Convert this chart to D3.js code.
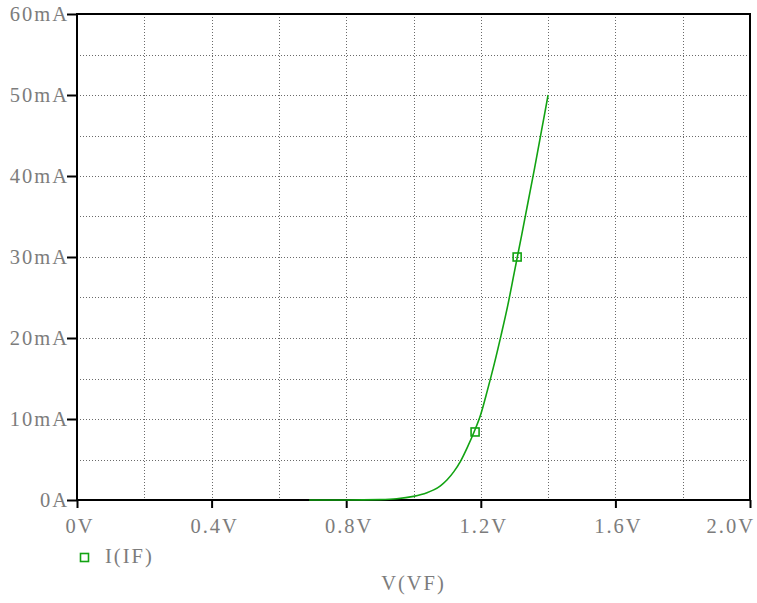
<!DOCTYPE html>
<html>
<head>
<meta charset="utf-8">
<script src="https://cdn.jsdelivr.net/npm/d3@7"></script>
<style>
  html, body { margin: 0; padding: 0; background: #fff; }
  svg { display: block; }
  .lbl { font-family: "Liberation Serif", "DejaVu Serif", serif; font-size: 20.5px; letter-spacing: 2px; fill: #7c7c7c; }
</style>
</head>
<body>
<svg id="chart" width="757" height="603"></svg>
<script>
// Forward voltage sweep of the diode (V) and the resulting current (mA)
const voltage = [0.69, 0.80, 0.90, 0.95, 1.00, 1.04, 1.06, 1.08, 1.10, 1.12, 1.14, 1.16, 1.18,
                 1.20, 1.22, 1.24, 1.26, 1.28, 1.30, 1.32, 1.34, 1.36, 1.38, 1.40];
const current = [0, 0, 0.05, 0.15, 0.45, 0.9, 1.25, 1.75, 2.5, 3.5, 4.8, 6.5, 8.4,
                 10.6, 13.6, 16.8, 20.3, 24.0, 28.2, 32.4, 36.7, 41.0, 45.5, 50.0];

// Trace markers placed along the curve
const markerV = [1.183, 1.308];
const markerI = [8.4, 30.0];

// Axis ticks
const xTicks = [0, 0.4, 0.8, 1.2, 1.6, 2.0];
const xTickLabels = ["0V", "0.4V", "0.8V", "1.2V", "1.6V", "2.0V"];
const yTicks = [0, 10, 20, 30, 40, 50, 60];
const yTickLabels = ["0A", "10mA", "20mA", "30mA", "40mA", "50mA", "60mA"];
const xGrid = [0.2, 0.4, 0.6, 0.8, 1.0, 1.2, 1.4, 1.6, 1.8];
const yGrid = [5, 10, 15, 20, 25, 30, 35, 40, 45, 50, 55];

const traceName = "I(IF)";
const xTitle = "V(VF)";
const green = "#12a312";

const svg = d3.select("#chart");
const plotL = 77, plotR = 750, plotT = 14, plotB = 500;

const x = d3.scaleLinear().domain([0, 2.0]).range([plotL, plotR]);
const y = d3.scaleLinear().domain([0, 60]).range([plotB, plotT]);

// dotted grid
const grid = svg.append("g");
grid.selectAll("line.gx").data(xGrid).join("line")
  .attr("x1", d => Math.round(x(d)) + 0.5).attr("x2", d => Math.round(x(d)) + 0.5)
  .attr("y1", plotT).attr("y2", plotB)
  .attr("stroke", "#6a6a6a").attr("stroke-width", 1).attr("stroke-dasharray", "1,2");
grid.selectAll("line.gy").data(yGrid).join("line")
  .attr("y1", d => Math.round(y(d)) + 0.5).attr("y2", d => Math.round(y(d)) + 0.5)
  .attr("x1", plotL).attr("x2", plotR)
  .attr("stroke", "#6a6a6a").attr("stroke-width", 1).attr("stroke-dasharray", "1,2");

// frame
svg.append("rect")
  .attr("x", plotL).attr("y", plotT).attr("width", plotR - plotL).attr("height", plotB - plotT)
  .attr("fill", "none").attr("stroke", "#000").attr("stroke-width", 2);

// x axis ticks
const xAxis = d3.axisBottom(x).tickValues(xTicks).tickSize(8).tickFormat("");
svg.append("g").attr("transform", `translate(0,${plotB})`).call(xAxis)
  .call(g => g.select(".domain").remove())
  .call(g => g.selectAll(".tick line").attr("stroke", "#000").attr("stroke-width", 2));
svg.append("g").selectAll("text").data(xTicks).join("text")
  .attr("class", "lbl")
  .attr("x", (d, i) => i === xTicks.length - 1 ? 755 : x(d) + 3)
  .attr("y", 533)
  .attr("text-anchor", (d, i) => i === xTicks.length - 1 ? "end" : "middle")
  .text((d, i) => xTickLabels[i]);

// y axis ticks
const yAxis = d3.axisLeft(y).tickValues(yTicks).tickSize(10).tickFormat("");
svg.append("g").attr("transform", `translate(${plotL},0)`).call(yAxis)
  .call(g => g.select(".domain").remove())
  .call(g => g.selectAll(".tick line").attr("stroke", "#000").attr("stroke-width", 2));
svg.append("g").selectAll("text").data(yTicks).join("text")
  .attr("class", "lbl")
  .attr("x", 69)
  .attr("y", d => y(d) + 7)
  .attr("text-anchor", "end")
  .text((d, i) => yTickLabels[i]);

// trace
const pts = voltage.map((v, i) => [v, current[i]]);
svg.append("path")
  .datum(pts)
  .attr("fill", "none")
  .attr("stroke", green)
  .attr("stroke-width", 1.6)
  .attr("d", d3.line().x(d => x(d[0])).y(d => y(d[1])).curve(d3.curveMonotoneX));

// markers on the trace
svg.append("g").selectAll("rect").data(markerV).join("rect")
  .attr("x", d => x(d) - 4).attr("y", (d, i) => y(markerI[i]) - 4)
  .attr("width", 8).attr("height", 8)
  .attr("fill", "none").attr("stroke", green).attr("stroke-width", 1.6);

// legend
svg.append("rect").attr("x", 80.5).attr("y", 553.5).attr("width", 8).attr("height", 8)
  .attr("fill", "none").attr("stroke", green).attr("stroke-width", 1.6);
svg.append("text").attr("class", "lbl").attr("x", 105).attr("y", 563).text(traceName);

// x axis title
svg.append("text").attr("class", "lbl").attr("x", (plotL + plotR) / 2).attr("y", 590)
  .attr("text-anchor", "middle").text(xTitle);
</script>
</body>
</html>
